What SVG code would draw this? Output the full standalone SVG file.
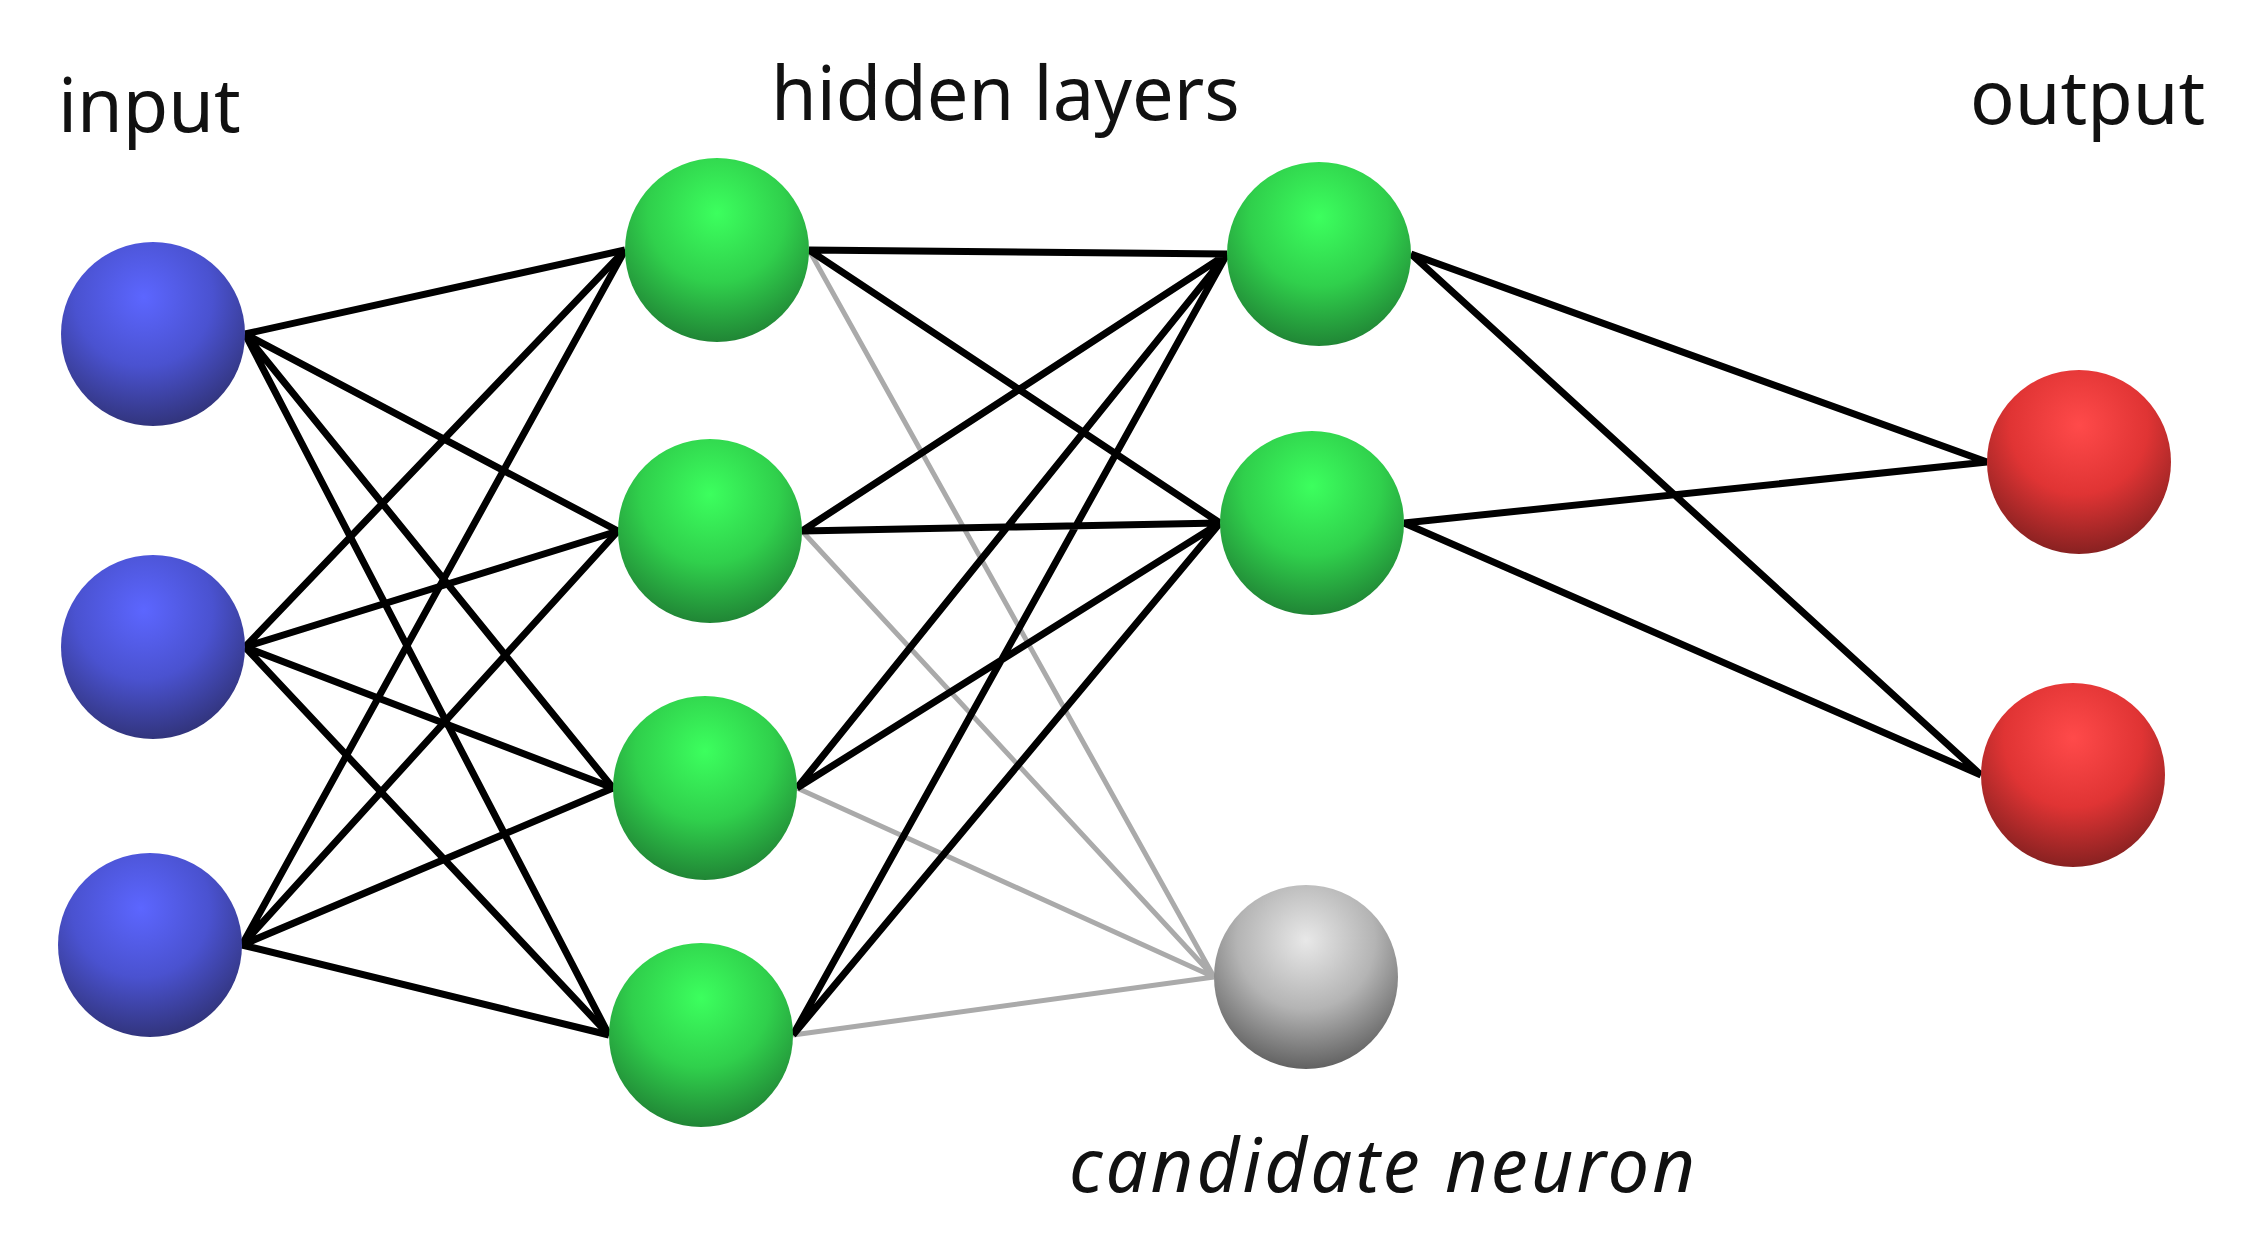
<svg xmlns="http://www.w3.org/2000/svg" width="2268" height="1235" viewBox="0 0 2268 1235">
<style>
.t{font-family:"Noto Sans","Open Sans",sans-serif;font-size:74px;fill:#111}
.e{stroke:#000;stroke-width:7;fill:none}
.g{stroke:#aaa;stroke-width:5;fill:none}
</style>
<defs>
<radialGradient id="blue" cx="0.45" cy="0.3" r="0.75"><stop offset="0" stop-color="#5c66ff"/><stop offset="0.5" stop-color="#4a52d0"/><stop offset="1" stop-color="#2e3070"/></radialGradient>
<radialGradient id="green" cx="0.5" cy="0.3" r="0.75"><stop offset="0" stop-color="#3cff5e"/><stop offset="0.5" stop-color="#30d04c"/><stop offset="1" stop-color="#1e7a32"/></radialGradient>
<radialGradient id="red" cx="0.5" cy="0.3" r="0.75"><stop offset="0" stop-color="#ff4a4a"/><stop offset="0.5" stop-color="#e03434"/><stop offset="1" stop-color="#7a1e1e"/></radialGradient>
<radialGradient id="gray" cx="0.5" cy="0.3" r="0.75"><stop offset="0" stop-color="#e8e8e8"/><stop offset="0.5" stop-color="#b4b4b4"/><stop offset="1" stop-color="#555"/></radialGradient>
</defs>
<rect width="2268" height="1235" fill="#fff"/>
<g id="connectors">
<g class="g">
<path d="M809 250L1214 977M802 531L1214 977M797 788L1214 977M793 1035L1214 977"/>
</g>
<g class="e">
<path d="M245 334L625 250M245 334L618 531M245 334L613 788M245 334L609 1035"/>
<path d="M245 647L625 250M245 647L618 531M245 647L613 788M245 647L609 1035"/>
<path d="M242 945L625 250M242 945L618 531M242 945L613 788M242 945L609 1035"/>
<path d="M809 250L1227 254M809 250L1220 523M802 531L1227 254M802 531L1220 523M797 788L1227 254M797 788L1220 523M793 1035L1227 254M793 1035L1220 523"/>
<path d="M1411 254L1987 462M1411 254L1981 775M1404 523L1987 462M1404 523L1981 775"/>
</g>
</g>
<g id="n-in1"><circle cx="153" cy="334" r="92" fill="url(#blue)"/></g>
<g id="n-in2"><circle cx="153" cy="647" r="92" fill="url(#blue)"/></g>
<g id="n-in3"><circle cx="150" cy="945" r="92" fill="url(#blue)"/></g>
<g id="n-h1a"><circle cx="717" cy="250" r="92" fill="url(#green)"/></g>
<g id="n-h1b"><circle cx="710" cy="531" r="92" fill="url(#green)"/></g>
<g id="n-h1c"><circle cx="705" cy="788" r="92" fill="url(#green)"/></g>
<g id="n-h1d"><circle cx="701" cy="1035" r="92" fill="url(#green)"/></g>
<g id="n-h2a"><circle cx="1319" cy="254" r="92" fill="url(#green)"/></g>
<g id="n-h2b"><circle cx="1312" cy="523" r="92" fill="url(#green)"/></g>
<g id="n-cand"><circle cx="1306" cy="977" r="92" fill="url(#gray)"/></g>
<g id="n-out1"><circle cx="2079" cy="462" r="92" fill="url(#red)"/></g>
<g id="n-out2"><circle cx="2073" cy="775" r="92" fill="url(#red)"/></g>
<g id="labels">
<text class="t" x="58" y="132">input</text>
<text class="t" x="771" y="120">hidden layers</text>
<text class="t" x="1970" y="124">output</text>
<text class="t" x="1069" y="1192" font-style="italic" letter-spacing="3">candidate neuron</text>
</g>
</svg>
